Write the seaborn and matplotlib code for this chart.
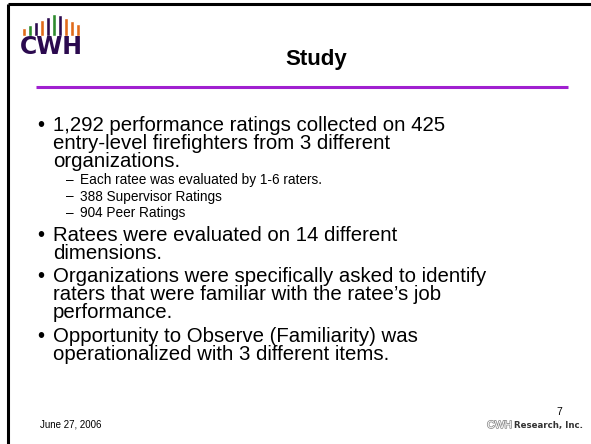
import numpy as np
import pandas as pd
import seaborn as sns
import matplotlib.pyplot as plt
import matplotlib.patheffects as pe

sns.set_theme(style="white")
plt.rcParams['font.family'] = ['Liberation Sans', 'DejaVu Sans']
plt.rcParams['text.color'] = 'black'
FONT = ['Liberation Sans', 'DejaVu Sans']

# slide text
title = "Study"
lines = [
    ("bullet", "1,292 performance ratings collected on 425"),
    ("cont", "entry-level firefighters from 3 different"),
    ("cont", "organizations."),
    ("sub", "Each ratee was evaluated by 1-6 raters."),
    ("sub", "388 Supervisor Ratings"),
    ("sub", "904 Peer Ratings"),
    ("bullet", "Ratees were evaluated on 14 different"),
    ("cont", "dimensions."),
    ("bullet", "Organizations were specifically asked to identify"),
    ("cont", "raters that were familiar with the ratee\u2019s job"),
    ("cont", "performance."),
    ("bullet", "Opportunity to Observe (Familiarity) was"),
    ("cont", "operationalized with 3 different items."),
]
footer_date = "June 27, 2006"
page_no = "7"

# logo bars (arch of coloured bars)
logo_heights = [8, 11, 14, 16, 19, 22, 21, 18, 15, 12]
logo_colors = ["#e06a1a", "#2e8b2e", "#2b0a4f", "#e06a1a", "#2b0a4f",
               "#2e8b2e", "#2b0a4f", "#e06a1a", "#e06a1a", "#e06a1a"]

fig = plt.figure(figsize=(5.91, 4.44), dpi=100)
ax = fig.add_axes([0, 0, 1, 1])
ax.set_xlim(0, 591)
ax.set_ylim(444, 0)
ax.axis("off")

# frame
ax.plot([8, 591], [4.5, 4.5], color="black", lw=2.2, solid_capstyle="butt")
ax.plot([8, 8], [4.5, 444], color="black", lw=2.2, solid_capstyle="butt")

# purple rule under title
ax.plot([36, 568], [87, 87], color="#a020d0", lw=2.2, solid_capstyle="butt")

ax.text(316, 60, title, fontsize=16, fontweight="bold", ha="center", va="center",
        family=FONT, color="black")

# body
main_size = 14.7
sub_size = 9.8
steps = {("bullet", "cont"): 23.5, ("bullet", "sub"): 22, ("cont", "cont"): 18,
         ("cont", "bullet"): 18, ("sub", "cont"): 19, ("sub", "bullet"): 19,
         ("sub", "sub"): 16.5}
y = 125
prev = None
for kind, txt in lines:
    if prev is not None:
        y += steps[(kind, prev)]
    if kind == "bullet":
        ax.text(37, y, "\u2022", fontsize=main_size, va="center", ha="left", family=FONT, color="black")
        ax.text(53, y, txt, fontsize=main_size, va="center", ha="left", family=FONT, color="black")
    elif kind == "cont":
        ax.text(53, y, txt, fontsize=main_size, va="center", ha="left", family=FONT, color="black")
    else:
        ax.text(66, y, "\u2013", fontsize=sub_size, va="center", ha="left", family=FONT, color="black")
        ax.text(80, y, txt, fontsize=sub_size, va="center", ha="left", family=FONT, color="black")
    prev = kind

# footer
ax.text(40, 424, footer_date, fontsize=7, va="center", ha="left", family=FONT, color="black")
ax.text(559, 412, page_no, fontsize=7.5, va="center", ha="center", family=FONT, color="black")
res = ax.text(583, 425, "Research, Inc.", fontsize=6.2, va="center", ha="right",
              fontweight="heavy", color="#333333", family=['DejaVu Sans'])
ax.annotate("CWH", xy=(0, 0.5), xycoords=res, xytext=(-1.5, 0), textcoords="offset points",
            fontsize=7.5, va="center", ha="right", color="white", family=FONT,
            path_effects=[pe.withStroke(linewidth=1.1, foreground="#8c8c8c")])

# logo
lax = fig.add_axes([21 / 591, 1 - 36 / 444, 60 / 591, 23 / 444])
lax.bar(range(len(logo_heights)), logo_heights, width=0.6, color=logo_colors)
lax.set_xlim(-0.5, len(logo_heights) - 0.5)
lax.set_ylim(0, 23)
lax.axis("off")
ax.text(51, 47, "CWH", fontsize=17, fontweight="heavy", color="#2b0a4f",
        ha="center", va="center", family=['DejaVu Sans'])

fig.savefig("out.png", dpi=100)
